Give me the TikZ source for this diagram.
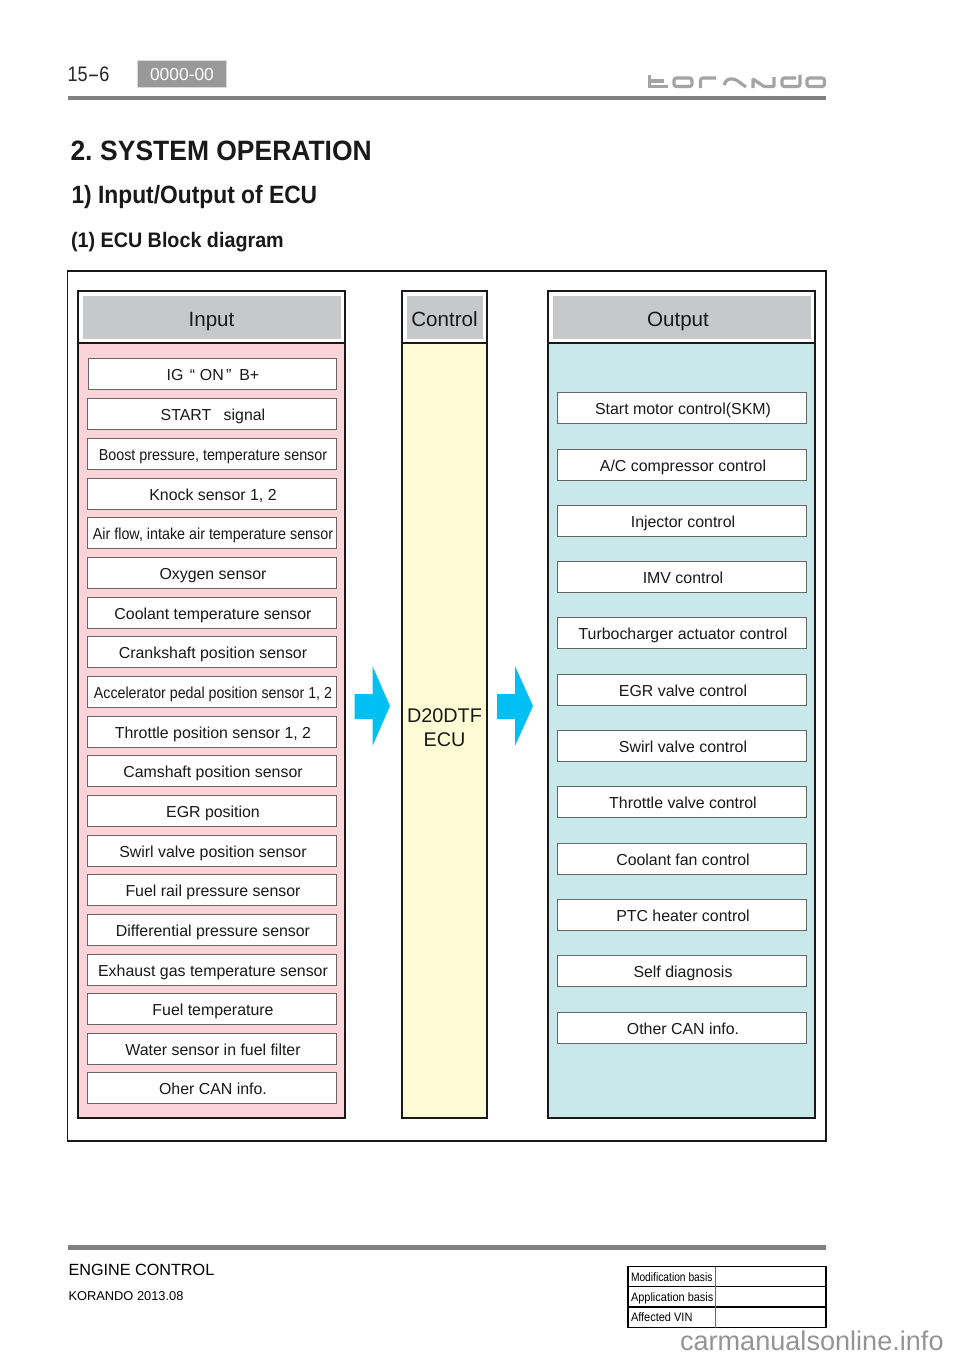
\documentclass[tikz,border=0pt]{standalone}
\usepackage{fontspec}
\setmainfont{Liberation Sans}
\definecolor{hdrgray}{HTML}{C7C8CA}
\definecolor{inpink}{HTML}{FBD3D9}
\definecolor{ctlyel}{HTML}{FFFBD5}
\definecolor{outcyan}{HTML}{C9E8E9}
\definecolor{arrowblue}{HTML}{00BFF3}
\definecolor{barg}{HTML}{808080}
\definecolor{logog}{HTML}{A4A4A4}
\newcommand{\fs}[1]{\fontsize{#1}{#1}\selectfont}
\newcommand{\sx}[2]{\scalebox{#1}[1]{#2}}
\tikzset{
 x=1pt,y=-1pt,
 every node/.style={inner sep=0pt,outer sep=0pt},
 panel/.style={draw=black!90,line width=1.2pt},
 itembox/.style={draw=black!60,line width=0.8pt,fill=white},
 itemtext/.style={font=\fs{15.9},anchor=base,text=black!90},
 hdrtext/.style={font=\fs{20.6},anchor=base,text=black!90},
 title/.style={anchor=base west,text=black!90},
 bigarrow/.style={fill=arrowblue,draw=none},
 logostroke/.style={draw=logog,line width=3.2pt,line cap=butt},
 tab/.style={draw=black,line width=1.1pt},
 celltext/.style={anchor=base west,font=\fs{12.2}},
}
\begin{document}
\begin{tikzpicture}
\useasboundingbox (0,0) rectangle (960,1358);
\fill[white] (0,0) rectangle (960,1358);
% header
\node[anchor=base west,font=\fs{21},text=black!85] (pg) at (67.5,81.5) {\sx{0.86}{15}\sx{1.7}{-}\sx{0.86}{6}};
\node[fill=black!40,draw=black!15,line width=1pt,minimum width=89pt,minimum height=27pt] (code) at (182,74) {};
\node[anchor=base,text=white,font=\fs{17.4}] (codet) at (182,80) {0000-00};
\fill[barg] (68,95.5) rectangle (826,100);
% logo
\draw[logostroke] (649.5,75) -- (649.5,86.5) -- (668,86.5) (649.5,81) -- (664,81);
\draw[logostroke,rounded corners=2.5pt] (674,78) rectangle (692,86.5);
\draw[logostroke,rounded corners=2.5pt] (700.5,88) -- (700.5,78) -- (716,78);
\draw[logostroke,rounded corners=3pt] (724,85) -- (727,79) -- (735,79) -- (746,87);
\draw[logostroke,rounded corners=1pt] (753,88) -- (753,79) -- (764,86.5) -- (774,86.5) -- (774,77);
\draw[logostroke,rounded corners=2.5pt] (800,74.5) -- (800,86.5) -- (782,86.5) -- (782,78) -- (796,78);
\draw[logostroke,rounded corners=2.5pt] (807,78) rectangle (824.5,86.5);
% titles
\node[title,font=\bfseries\fs{28}] (t1) at (70.5,160.5) {\sx{0.945}{2.\hspace{-0.08em} SYSTEM OPERATION}};
\node[title,font=\bfseries\fs{25}] (t2) at (71.5,203.5) {\sx{0.912}{1) Input/Output of ECU}};
\node[title,font=\bfseries\fs{21}] (t3) at (71,247) {\sx{0.94}{(1) ECU Block diagram}};
% frame
\draw[draw=black!90,line width=1.2pt] (67.5,271) rectangle (826,1141);
% panels
\fill[inpink] (78,343) rectangle (345,1118);
\fill[ctlyel] (402,343) rectangle (487,1118);
\fill[outcyan] (548,343) rectangle (815,1118);
\fill[hdrgray] (83,296) rectangle (341,339);
\fill[hdrgray] (407,296) rectangle (483,339);
\fill[hdrgray] (553,296) rectangle (811,339);
\draw[panel] (78,291) rectangle (345,1118) (78,343) -- (345,343);
\draw[panel] (402,291) rectangle (487,1118) (402,343) -- (487,343);
\draw[panel] (548,291) rectangle (815,1118) (548,343) -- (815,343);
\node[hdrtext] (hin) at (211.5,326.5) {Input};
\node[hdrtext] (hct) at (444.5,326.5) {Control};
\node[hdrtext] (hou) at (678,326.5) {Output};
\node[anchor=center,align=center,text=black!90,font=\fontsize{19.8}{23.5}\selectfont] (ecu) at (444.5,727.5) {D20DTF\\ECU};
% arrows
\fill[bigarrow] (354.5,694) -- (372.5,694) -- (372.5,666) -- (390,706) -- (372.5,746) -- (372.5,719) -- (354.5,719) -- cycle;
\fill[bigarrow] (497,694) -- (515,694) -- (515,666) -- (533,706) -- (515,746) -- (515,719) -- (497,719) -- cycle;
% input items
\foreach \i/\ya/\xa/\txt in {
 1/374/88/{IG\hspace{0.4em}“\hspace{0.3em}ON\hspace{0.15em}”\hspace{0.5em}B+},
 2/414/87.5/{START\hspace{0.5em} signal},
 3/453.5/87/{\sx{0.9}{Boost pressure, temperature sensor}},
 4/493.5/87/{Knock sensor 1, 2},
 5/533/87/{\sx{0.9}{Air flow, intake air temperature sensor}},
 6/573/87/{Oxygen sensor},
 7/612.5/87/{Coolant temperature sensor},
 8/652/87/{Crankshaft position sensor},
 9/692/87/{\sx{0.895}{Accelerator pedal position sensor 1, 2}},
 10/731.5/87/{Throttle position sensor 1, 2},
 11/771/87/{Camshaft position sensor},
 12/811/87/{EGR position},
 13/850.5/87/{Swirl valve position sensor},
 14/890/87/{Fuel rail pressure sensor},
 15/929.5/87/{Differential pressure sensor},
 16/969.5/87/{Exhaust gas temperature sensor},
 17/1009/87/{Fuel temperature},
 18/1048.5/87/{Water sensor in fuel filter},
 19/1088/87/{Oher CAN info.}} {
  \draw[itembox] (\xa,\ya-15.5) rectangle (336.5,\ya+15.5);
  \node[itemtext] (in\i) at (213,\ya+6.5) {\txt};
}
% output items
\foreach \i/\ya/\txt in {
 1/408/{Start motor control(SKM)},
 2/464.5/{A/C compressor control},
 3/520.5/{Injector control},
 4/577/{IMV control},
 5/633/{Turbocharger actuator control},
 6/689.5/{EGR valve control},
 7/746/{Swirl valve control},
 8/802/{Throttle valve control},
 9/858.5/{Coolant fan control},
 10/915/{PTC heater control},
 11/971/{Self diagnosis},
 12/1027.5/{Other CAN info.}} {
  \draw[itembox] (557,\ya-15.5) rectangle (806,\ya+15.5);
  \node[itemtext] (out\i) at (683,\ya+6.5) {\txt};
}
% footer
\fill[barg] (68,1245) rectangle (826,1250);
\node[anchor=base west,font=\fs{16.2}] (f1) at (68.5,1275.5) {ENGINE CONTROL};
\node[anchor=base west,font=\fs{12.85}] (f2) at (68.5,1300.5) {KORANDO 2013.08};
% table
\draw[tab] (628,1266.5) rectangle (826,1327.5);
\draw[tab] (628,1286.5) -- (826,1286.5) (628,1307) -- (826,1307);
\draw[draw=black!60,line width=1.2pt] (715.5,1266.5) -- (715.5,1327.5);
\node[celltext] (c1) at (631,1281) {\sx{0.84}{Modification basis}};
\node[celltext] (c2) at (631,1301.5) {\sx{0.9}{Application basis}};
\node[celltext] (c3) at (631,1321.5) {\sx{0.9}{Affected VIN}};
\node[anchor=base west,font=\fs{27.1},text=black!42] (wm) at (680,1350) {carmanualsonline.info};
\end{tikzpicture}
\end{document}
